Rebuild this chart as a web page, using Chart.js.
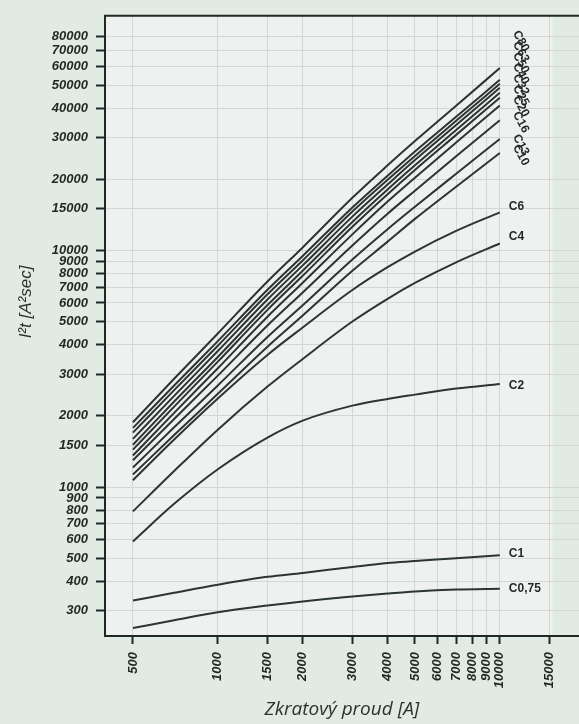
<!DOCTYPE html>
<html>
<head>
<meta charset="utf-8">
<script src="https://cdn.jsdelivr.net/npm/chart.js@4.4.1/dist/chart.umd.min.js"></script>
<style>
  html, body { margin: 0; padding: 0; background: #e1ebe4; }
  #wrap { width: 579px; height: 724px; position: relative; }
</style>
</head>
<body>
<div id="wrap"><canvas id="c" width="579" height="724"></canvas></div>
<script>
// Prospective short-circuit current [A] at which each curve is sampled
const current = [500, 700, 1000, 1500, 2000, 3000, 4000, 5000, 7000, 10000];

// Let-through energy I²t [A²s] for each breaker rating
const c80  = [1880, 2870, 4460, 7390, 10300, 16700, 22900, 29000, 40900, 59000];
const c63  = [1780, 2690, 4140, 6820, 9480, 15200, 20700, 26200, 36700, 52600];
const c50  = [1700, 2570, 3960, 6530, 9080, 14600, 19900, 25100, 35300, 50600];
const c40  = [1600, 2430, 3760, 6210, 8650, 13900, 19000, 24100, 33900, 48700];
const c32  = [1510, 2300, 3550, 5880, 8210, 13200, 18100, 22900, 32300, 46400];
const c25  = [1440, 2190, 3390, 5610, 7820, 12600, 17300, 21900, 30800, 44200];
const c20  = [1360, 2060, 3180, 5250, 7310, 11700, 16100, 20300, 28600, 41000];
const c16  = [1300, 1940, 2960, 4820, 6650, 10500, 14300, 17900, 25000, 35500];
const c13  = [1210, 1790, 2690, 4310, 5870, 9160, 12300, 15300, 21100, 29600];
const c10  = [1130, 1660, 2480, 3920, 5310, 8210, 10900, 13600, 18600, 25800];
const c6   = [1070, 1590, 2370, 3620, 4730, 6810, 8500, 9900, 12100, 14500];
const c4   = [790, 1170, 1750, 2660, 3480, 5010, 6250, 7290, 8910, 10700];
const c2   = [590, 850, 1190, 1620, 1910, 2210, 2360, 2460, 2610, 2730];
const c1   = [332, 358, 387, 418, 434, 460, 478, 487, 501, 516];
const c075 = [254, 274, 296, 316, 329, 345, 355, 362, 369, 372];

const ratingNames = ['C80', 'C63', 'C50', 'C40', 'C32', 'C25', 'C20', 'C16', 'C13', 'C10', 'C6', 'C4', 'C2', 'C1', 'C0,75'];
const ratingValues = [c80, c63, c50, c40, c32, c25, c20, c16, c13, c10, c6, c4, c2, c1, c075];

// Axis tick labels
const xTicks = [500, 1000, 1500, 2000, 3000, 4000, 5000, 6000, 7000, 8000, 9000, 10000, 15000];
const yTicks = [300, 400, 500, 600, 700, 800, 900, 1000, 1500, 2000, 3000, 4000, 5000, 6000,
                7000, 8000, 9000, 10000, 15000, 20000, 30000, 40000, 50000, 60000, 70000, 80000];

const INK = '#1f2824';
const LINE = '#2c3531';
const GRID = '#d2d7d4';
const tickFont = { family: '"Liberation Sans", Arial, sans-serif', size: 13, style: 'italic', weight: 'bold' };

// Page and plot-panel backgrounds plus the frame line along the top
const panelPlugin = {
  id: 'panel',
  beforeDraw(chart) {
    const { ctx, chartArea: a, scales } = chart;
    ctx.save();
    ctx.fillStyle = '#e1ebe4';
    ctx.fillRect(0, 0, chart.width, chart.height);
    const right = scales.x.getPixelForValue(15000) + 3;
    ctx.fillStyle = '#eff1f0';
    ctx.fillRect(a.left, a.top, right - a.left, a.bottom - a.top);
    ctx.restore();
  },
  afterDraw(chart) {
    const { ctx, chartArea: a } = chart;
    ctx.save();
    ctx.strokeStyle = INK;
    ctx.lineWidth = 2;
    ctx.beginPath();
    ctx.moveTo(a.left - 1, a.top);
    ctx.lineTo(chart.width, a.top);
    ctx.stroke();
    // vertical axis title
    ctx.fillStyle = '#2a322e';
    ctx.font = 'italic 17px "Liberation Sans", Arial, sans-serif';
    ctx.textAlign = 'center';
    ctx.textBaseline = 'middle';
    ctx.translate(26, 302);
    ctx.rotate(-Math.PI / 2);
    ctx.fillText('I²t [A²sec]', 0, 0);
    ctx.restore();
  }
};

// Rating names written at the right-hand end of each curve
const endLabelPlugin = {
  id: 'endLabels',
  afterDatasetsDraw(chart, args, opts) {
    const ctx = chart.ctx;
    ctx.save();
    ctx.font = opts.font;
    ctx.fillStyle = opts.color;
    ctx.textBaseline = 'middle';
    chart.data.datasets.forEach((ds, i) => {
      const meta = chart.getDatasetMeta(i);
      const pt = meta.data[meta.data.length - 1];
      const o = opts.place[ds.label] || {};
      ctx.save();
      ctx.translate(pt.x + (o.dx || 0), pt.y + (o.dy || 0));
      ctx.rotate((o.rot || 0) * Math.PI / 180);
      ctx.textAlign = o.align || 'left';
      ctx.fillText(ds.label, 0, 0);
      ctx.restore();
    });
    ctx.restore();
  }
};

const slanted = (dy) => ({ dx: 21, dy, rot: 62, align: 'center' });

new Chart(document.getElementById('c'), {
  type: 'line',
  data: {
    datasets: ratingNames.map((name, k) => ({
      label: name,
      data: current.map((x, i) => ({ x, y: ratingValues[k][i] })),
      borderColor: LINE,
      borderWidth: 2,
      pointRadius: 0,
      fill: false,
      cubicInterpolationMode: 'monotone'
    }))
  },
  options: {
    responsive: false,
    animation: false,
    layout: { padding: { top: 7, left: 0, right: 0, bottom: 0 } },
    plugins: {
      legend: { display: false },
      tooltip: { enabled: false },
      endLabels: {
        font: 'bold 12px "Liberation Sans", Arial, sans-serif',
        color: INK,
        place: {
          'C80': slanted(-27), 'C63': slanted(-28), 'C50': slanted(-21), 'C40': slanted(-14),
          'C32': slanted(-8), 'C25': slanted(-2), 'C20': slanted(1), 'C16': slanted(2),
          'C13': slanted(6), 'C10': slanted(2),
          'C6': { dx: 9, dy: -6 }, 'C4': { dx: 9, dy: -7 }, 'C2': { dx: 9, dy: 2 },
          'C1': { dx: 9, dy: -1 }, 'C0,75': { dx: 9, dy: 0 }
        }
      }
    },
    scales: {
      x: {
        type: 'logarithmic',
        min: 398,
        max: 19090,
        afterBuildTicks: (s) => { s.ticks = xTicks.map(v => ({ value: v })); },
        afterFit: (s) => { s.height = 88; },
        ticks: {
          autoSkip: false,
          minRotation: 90,
          maxRotation: 90,
          padding: 8,
          color: INK,
          font: tickFont,
          callback: (v) => String(v)
        },
        grid: { color: GRID, lineWidth: 1, tickColor: INK, tickLength: 8, tickWidth: 2 },
        border: { color: INK, width: 2 },
        title: {
          display: true,
          text: 'Zkratový proud [A]',
          color: '#2a322e',
          font: { family: '"Open Sans", sans-serif', size: 19, style: 'italic' },
          padding: { top: 0, bottom: 3 }
        }
      },
      y: {
        type: 'logarithmic',
        min: 235,
        max: 98100,
        afterBuildTicks: (s) => { s.ticks = yTicks.map(v => ({ value: v })); },
        afterFit: (s) => { s.width = 105; },
        ticks: {
          autoSkip: false,
          padding: 8,
          color: INK,
          font: tickFont,
          callback: (v) => String(v)
        },
        grid: { color: GRID, lineWidth: 1, tickColor: INK, tickLength: 9, tickWidth: 2 },
        border: { color: INK, width: 2 }
      }
    }
  },
  plugins: [panelPlugin, endLabelPlugin]
});
</script>
</body>
</html>
